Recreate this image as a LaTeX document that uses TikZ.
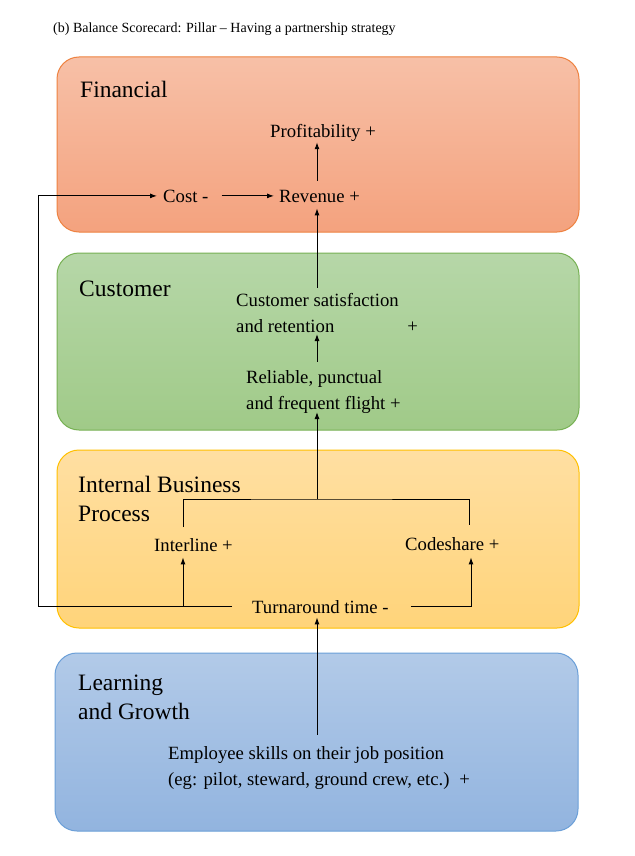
\documentclass[tikz,border=0pt]{standalone}
\usepackage{fontspec}
\setmainfont{Liberation Serif}
\usetikzlibrary{arrows.meta}
\definecolor{finT}{HTML}{F7C0A7}
\definecolor{finB}{HTML}{F4A27E}
\definecolor{finD}{HTML}{EE8240}
\definecolor{cusT}{HTML}{B6D7A8}
\definecolor{cusB}{HTML}{A0CA88}
\definecolor{cusD}{HTML}{77B154}
\definecolor{ibpT}{HTML}{FFDFA2}
\definecolor{ibpB}{HTML}{FFD47A}
\definecolor{ibpD}{HTML}{FFC000}
\definecolor{lgT}{HTML}{B2CAE8}
\definecolor{lgB}{HTML}{92B4DF}
\definecolor{lgD}{HTML}{6B9FD8}
\newcommand{\mylblfont}{\fontsize{18.7}{26}\selectfont}
\newcommand{\myhdgfont}{\fontsize{23.5}{29}\selectfont}
\newcommand{\myttlfont}{\fontsize{14}{16}\selectfont}
\begin{document}
\begin{tikzpicture}[x=1pt,y=-1pt,
  panel/.style={rounded corners=22pt, line width=1pt},
  lbl/.style={inner sep=0pt, anchor=base west, font=\mylblfont},
  hdg/.style={inner sep=0pt, anchor=base west, font=\myhdgfont},
  arr/.style={line width=1pt, -{Latex[length=7pt,width=5pt]}},
  ln/.style={line width=1pt}]
\useasboundingbox (0,0) rectangle (634,856);
\fill[white] (0,0) rectangle (634,856);
% panels
\draw[panel, draw=finD, top color=finT, bottom color=finB] (57,57) rectangle (579,232);
\draw[panel, draw=cusD, top color=cusT, bottom color=cusB] (57,253) rectangle (579,430);
\draw[panel, draw=ibpD, top color=ibpT, bottom color=ibpB] (57,450) rectangle (579,628);
\draw[panel, draw=lgD, top color=lgT, bottom color=lgB] (55,653) rectangle (578,831);
% title
\node[inner sep=0pt, anchor=base west, font=\myttlfont] (title) at (53,33) {(b) Balance Scorecard: Pillar -- Having a partnership strategy};
% headings
\node[hdg] (finH) at (80,98) {Financial};
\node[hdg] (cusH) at (79,296) {Customer};
\node[hdg] (ibpH) at (78,492) {\begin{tabular}[t]{@{}l@{}}Internal Business\\Process\end{tabular}};
\node[hdg] (lgH) at (78,690) {\begin{tabular}[t]{@{}l@{}}Learning\\and Growth\end{tabular}};
% labels
\node[lbl] (prof) at (270,138) {Profitability +};
\node[lbl] (cost) at (163,202) {Cost -};
\node[lbl] (rev) at (279,202) {Revenue +};
\node[lbl] (cs) at (236,306) {\begin{tabular}[t]{@{}l@{}}Customer satisfaction\\and retention\hspace{73pt}+\end{tabular}};
\node[lbl] (rel) at (246,383) {\begin{tabular}[t]{@{}l@{}}Reliable, punctual\\and frequent flight +\end{tabular}};
\node[lbl] (intl) at (154,551) {Interline +};
\node[lbl] (code) at (405,550) {Codeshare +};
\node[lbl] (turn) at (252,613) {Turnaround time -};
\node[lbl] (emp) at (168,759) {\begin{tabular}[t]{@{}l@{}}Employee skills on their job position\\(eg: pilot, steward, ground crew, etc.)\hspace{10pt}+\end{tabular}};
% helper coordinates
\coordinate (vx) at (317,0);
\coordinate (ilx) at (183,0);
\coordinate (csx) at (471,0);
\coordinate (lft) at (38,0);
\coordinate (jn) at (317,499);
\coordinate (tl) at (183,527);
\coordinate (tr) at (469,525);
% connectors
\draw[arr, shorten <=9pt] (rev.north -| vx) -- (prof.south -| vx);
\draw[arr, shorten >=6pt] (cs.north -| vx) -- (rev.south -| vx);
\draw[arr, shorten <=13pt, shorten >=5pt] (cost.east) -- (cost.east -| rev.west);
\draw[arr, shorten <=3pt, shorten >=-6pt] (rel.north -| vx) -- (cs.south -| vx);
\draw[ln] (tl) |- (jn) -| (tr);
\draw[arr, shorten >=-5pt] (jn) -- (rel.south -| jn);
\draw[arr, shorten <=20pt, shorten >=6pt] (turn.west) -| (lft |- cost.west) -- (cost.west);
\draw[arr, shorten >=6pt] (turn.west -| ilx) -- (intl.south -| ilx);
\draw[arr, shorten <=22pt, shorten >=7pt] (turn.east) -| (code.south -| csx);
\draw[arr, shorten <=6pt, shorten >=4pt] (emp.north -| vx) -- (turn.south -| vx);
\end{tikzpicture}
\end{document}
